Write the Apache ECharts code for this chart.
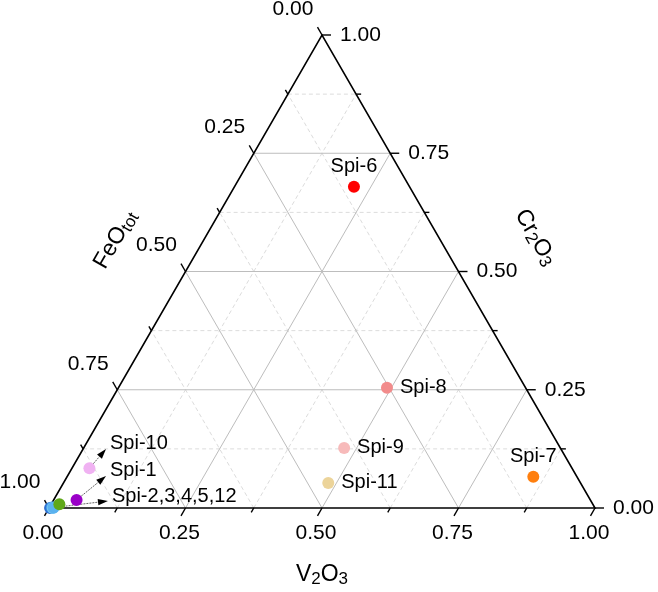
<!DOCTYPE html>
<html><head><meta charset="utf-8">
<script src="https://cdn.jsdelivr.net/npm/echarts@6/dist/echarts.min.js"></script>
<style>html,body{margin:0;padding:0;background:#fff}#c{width:658px;height:592px}</style>
</head><body><div id="c"></div>
<script>
// ---- data (ternary compositions: V2O3, Cr2O3, FeOtot) ----
const sampleNames = ['Spi-6','Spi-8','Spi-9','Spi-11','Spi-7','Spi-10','Spi-1','Spi-3','Spi-4','Spi-5','Spi-2','Spi-12'];
const v2o3   = [0.219, 0.492, 0.477, 0.485, 0.854, 0.032, 0.042, 0.002, 0.005, 0.007, 0.008, 0.015];
const cr2o3  = [0.679, 0.254, 0.127, 0.053, 0.066, 0.084, 0.017, 0.000, 0.001, 0.000, 0.001, 0.008];
const feotot = [0.102, 0.254, 0.396, 0.462, 0.080, 0.884, 0.941, 0.998, 0.994, 0.993, 0.991, 0.977];
const pointColors = ['#ff0000','#f28b8b','#f7baba','#ecd49a','#ff7f0e','#f0b2f2','#9a00c8','#2f6fd0','#48a0e8','#7cc8f2','#5ab2ef','#5fa818'];
const tickValues  = [0, 0.25, 0.5, 0.75, 1];
const tickLabels  = ['0.00','0.25','0.50','0.75','1.00'];
const minorTickValues = [0.125, 0.375, 0.625, 0.875];
// labels next to points
const directLabelNames = ['Spi-6','Spi-7','Spi-8','Spi-9','Spi-11'];
// callouts: from sample -> label anchor (ternary V2O3, Cr2O3)
const calloutFrom = ['Spi-10','Spi-1','Spi-2'];
const calloutText = ['Spi-10','Spi-1','Spi-2,3,4,5,12'];
const calloutV    = [0.042, 0.0706, 0.1006];
const calloutCr   = [0.1248, 0.0677, 0.0148];

// ---- helpers ----
const H = Math.sqrt(3) / 2;
function tern(v, cr) { return [v + cr / 2, cr * H]; }
const FONT = '"Liberation Sans", Arial, sans-serif';

const labelPos = {'Spi-6':'top','Spi-7':'top','Spi-8':'right','Spi-9':'right','Spi-11':'right'};
const scatterData = sampleNames.map((n, i) => {
  const item = { name: n, value: tern(v2o3[i], cr2o3[i]), itemStyle: { color: pointColors[i], opacity: 1 } };
  if (directLabelNames.indexOf(n) >= 0) {
    const pos = labelPos[n];
    item.label = { show: true, position: pos, distance: pos === 'top' ? 4 : 7,
      formatter: n, fontSize: 20, fontFamily: FONT, color: '#000', opacity: 1 };
  }
  return item;
});

function frameRender(params, api) {
  const P = (v, cr) => api.coord(tern(v, cr));
  const ch = [];
  // grid lines
  const lines = minorTickValues.map(k => [k, false]).concat(tickValues.slice(1, -1).map(k => [k, true]));
  lines.forEach(([k, major]) => {
    const st = major ? { stroke: '#bdbdbd', lineWidth: 1 } : { stroke: '#dcdcdc', lineWidth: 1, lineDash: [4, 3] };
    [[P(k, 0), P(k, 1 - k)], [P(0, k), P(1 - k, k)], [P(1 - k, 0), P(0, 1 - k)]].forEach(([a, b]) => {
      ch.push({ type: 'line', shape: { x1: a[0], y1: a[1], x2: b[0], y2: b[1] }, style: st });
    });
  });
  // frame
  ch.push({ type: 'polygon', shape: { points: [P(0, 0), P(1, 0), P(0, 1)] },
    style: { fill: 'none', stroke: '#000', lineWidth: 1.6 } });
  // ticks
  const tickSt = { stroke: '#000', lineWidth: 1.4 };
  const allTicks = tickValues.map(t => [t, true]).concat(minorTickValues.map(t => [t, false]));
  allTicks.forEach(([t, major]) => {
    const len = major ? 9 : 5;
    const b = P(t, 0);            // bottom axis V2O3
    ch.push({ type: 'line', shape: { x1: b[0], y1: b[1], x2: b[0] - 0.5 * len, y2: b[1] + H * len }, style: tickSt });
    const r = P(1 - t, t);        // right axis Cr2O3
    ch.push({ type: 'line', shape: { x1: r[0], y1: r[1], x2: r[0] + len, y2: r[1] }, style: tickSt });
    const l = P(0, 1 - t);        // left axis FeOtot
    ch.push({ type: 'line', shape: { x1: l[0], y1: l[1], x2: l[0] - 0.5 * len, y2: l[1] - H * len }, style: tickSt });
  });
  // tick labels
  tickValues.forEach((t, i) => {
    const txt = tickLabels[i];
    const b = P(t, 0);
    ch.push({ type: 'text', x: b[0] - 6, y: b[1] + 25, style: { text: txt, fill: '#000', font: '21px ' + FONT, align: 'center', verticalAlign: 'middle' } });
    const r = P(1 - t, t);
    ch.push({ type: 'text', x: r[0] + 18, y: r[1], style: { text: txt, fill: '#000', font: '21px ' + FONT, align: 'left', verticalAlign: 'middle' } });
    const l = P(0, 1 - t);
    ch.push({ type: 'text', x: l[0] - 29, y: l[1] - 26, style: { text: txt, fill: '#000', font: '21px ' + FONT, align: 'center', verticalAlign: 'middle' } });
  });
  // axis titles
  const rich = {
    m: { fontSize: 23, fontFamily: FONT, lineHeight: 26, fill: '#000', color: '#000' },
    s: { fontSize: 17, fontFamily: FONT, lineHeight: 13, verticalAlign: 'bottom', fill: '#000', color: '#000' }
  };
  const bm = P(0.5, 0), lm = P(0, 0.5), rm = P(0.5, 0.5);
  ch.push({ type: 'text', x: bm[0], y: bm[1] + 67, style: { text: '{m|V}{s|2}{m|O}{s|3}', rich: rich, align: 'center', verticalAlign: 'middle' } });
  ch.push({ type: 'text', x: lm[0] - 70, y: lm[1] - 32, rotation: Math.PI / 3, style: { text: '{m|FeO}{s|tot}', rich: rich, align: 'center', verticalAlign: 'middle' } });
  ch.push({ type: 'text', x: rm[0] + 77, y: rm[1] - 34, rotation: -Math.PI / 3, style: { text: '{m|Cr}{s|2}{m|O}{s|3}', rich: rich, align: 'center', verticalAlign: 'middle' } });
  return { type: 'group', children: ch };
}

function calloutRender(params, api) {
  const i = params.dataIndex;
  const si = sampleNames.indexOf(calloutFrom[i]);
  const a = api.coord(tern(v2o3[si], cr2o3[si]));
  const b = api.coord(tern(calloutV[i], calloutCr[i]));
  const dx = b[0] - a[0], dy = b[1] - a[1];
  const d = Math.sqrt(dx * dx + dy * dy), ux = dx / d, uy = dy / d;
  const hl = 10, hw = 3.2;
  const base = [b[0] - ux * hl, b[1] - uy * hl];
  return { type: 'group', children: [
    { type: 'line', shape: { x1: a[0], y1: a[1], x2: base[0], y2: base[1] }, style: { stroke: '#555', lineWidth: 0.9, lineDash: [2, 1] } },
    { type: 'polygon', shape: { points: [b, [base[0] - uy * hw, base[1] + ux * hw], [base[0] + uy * hw, base[1] - ux * hw]] }, style: { fill: '#000' } },
    { type: 'text', x: b[0] + 4, y: b[1] - 5, style: { text: calloutText[i], fill: '#000', font: '20px ' + FONT, align: 'left', verticalAlign: 'middle' } }
  ] };
}

const chart = echarts.init(document.getElementById('c'), null, { renderer: 'canvas' });
chart.setOption({
  animation: false,
  backgroundColor: '#fff',
  grid: { left: 49, top: 35, width: 546, height: 473 },
  xAxis: { type: 'value', min: 0, max: 1, show: false },
  yAxis: { type: 'value', min: 0, max: H, show: false },
  series: [
    { type: 'custom', renderItem: frameRender, data: [[0, 0]], z: 1, silent: true, clip: false },
    { type: 'custom', renderItem: calloutRender, data: calloutFrom.map((n, i) => [i, i]), z: 2, silent: true, clip: false },
    { type: 'scatter', data: scatterData, symbolSize: 12, z: 3, clip: false, itemStyle: { opacity: 1 },
      label: { color: '#000' } }
  ]
});
</script></body></html>
